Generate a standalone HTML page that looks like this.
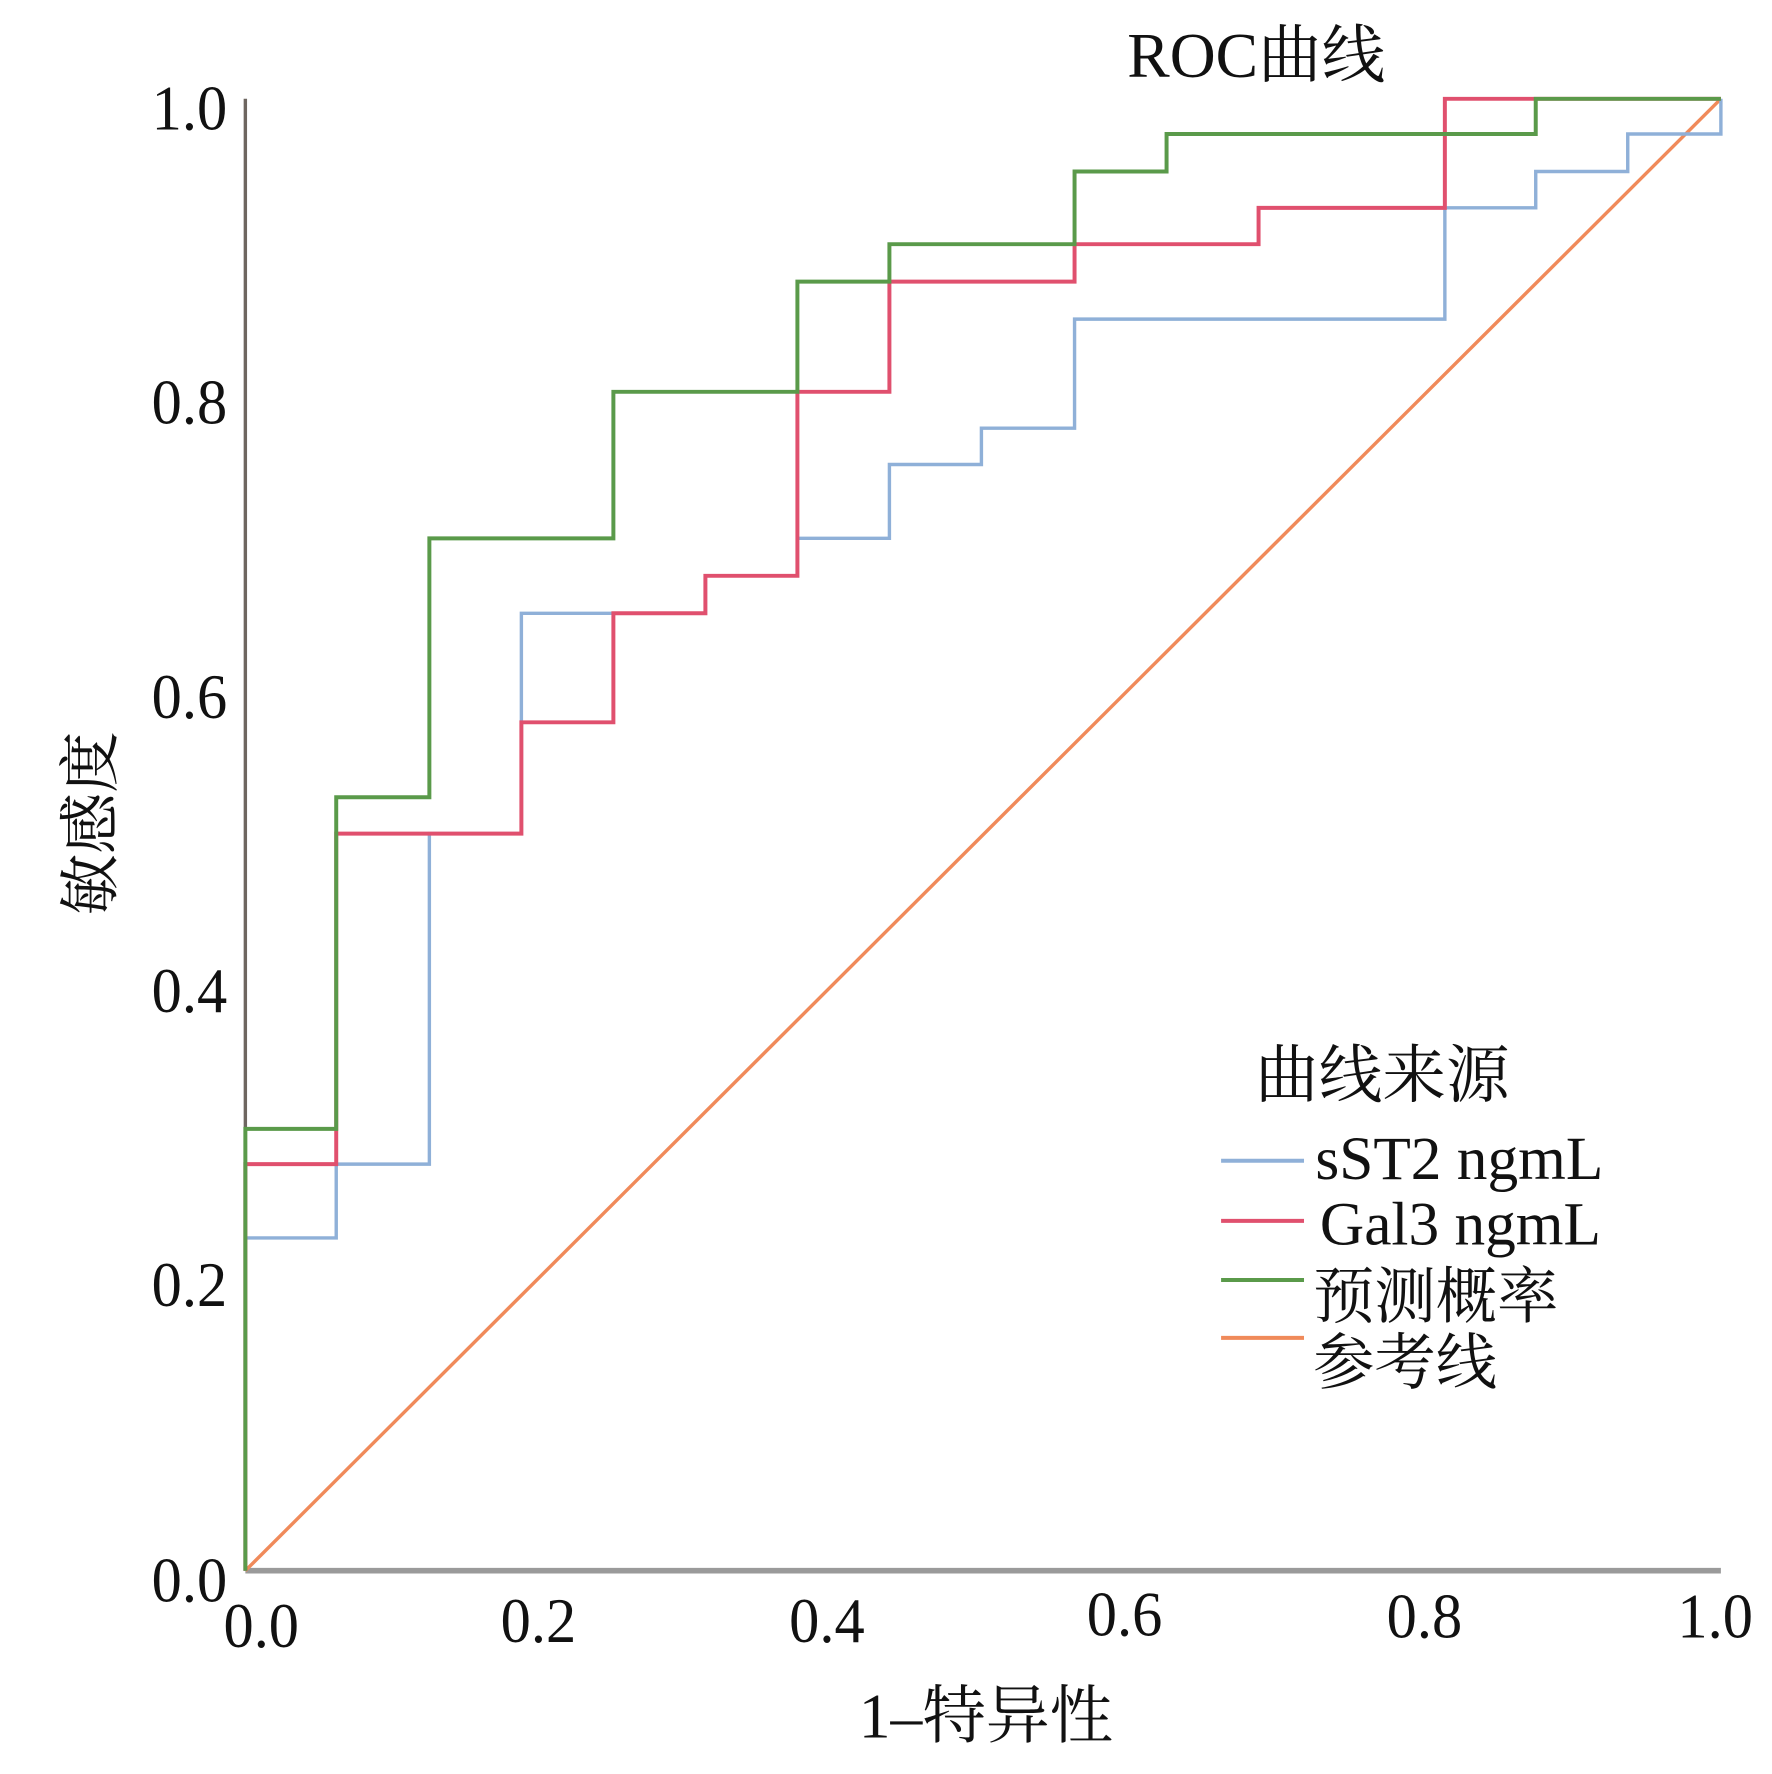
<!DOCTYPE html>
<html><head><meta charset="utf-8"><style>
html,body{margin:0;padding:0;background:#fff;}
svg{display:block;}
text{font-family:"Liberation Serif","Noto Serif CJK SC",serif;fill:#111;}
</style></head><body>
<svg width="1772" height="1774" viewBox="0 0 1560 1562" preserveAspectRatio="none">
<rect width="1560" height="1562" fill="#fff"/>
<line x1="216" y1="87" x2="216" y2="1383" stroke="#6e6660" stroke-width="3"/>
<line x1="216" y1="1383" x2="1515" y2="1383" stroke="#9a9a9a" stroke-width="5"/>
<line x1="216" y1="1383" x2="1515" y2="87" stroke="#f08a5a" stroke-width="3"/>
<polyline fill="none" stroke="#8fb0d8" stroke-width="3" points="216,1383 216,1090 296,1090 296,1025 378,1025 378,734 459,734 459,540 621,540 621,507 702,507 702,474 783,474 783,409 864,409 864,377 946,377 946,281 1272,281 1272,183 1352,183 1352,151 1433,151 1433,118 1515,118 1515,87"/>
<polyline fill="none" stroke="#e0506e" stroke-width="3.5" points="216,1383 216,1025 296,1025 296,734 459,734 459,636 540,636 540,540 621,540 621,507 702,507 702,345 783,345 783,248 946,248 946,215 1108,215 1108,183 1272,183 1272,87 1515,87"/>
<polyline fill="none" stroke="#5a9a4a" stroke-width="3.5" points="216,1383 216,994 296,994 296,702 378,702 378,474 540,474 540,345 702,345 702,248 783,248 783,215 946,215 946,151 1027,151 1027,118 1352,118 1352,87 1515,87"/>
<g font-size="56" text-anchor="end">
<text x="200" y="114" transform="scale(0.95,1)" transform-origin="200 114">1.0</text>
<text x="200" y="373" transform="scale(0.95,1)" transform-origin="200 373">0.8</text>
<text x="200" y="632" transform="scale(0.95,1)" transform-origin="200 632">0.6</text>
<text x="200" y="891" transform="scale(0.95,1)" transform-origin="200 891">0.4</text>
<text x="200" y="1150" transform="scale(0.95,1)" transform-origin="200 1150">0.2</text>
<text x="200" y="1410" transform="scale(0.95,1)" transform-origin="200 1410">0.0</text>
</g>
<g font-size="56" text-anchor="middle">
<text x="230" y="1450" transform="scale(0.95,1)" transform-origin="230 1450">0.0</text>
<text x="474" y="1446" transform="scale(0.95,1)" transform-origin="474 1446">0.2</text>
<text x="728" y="1446" transform="scale(0.95,1)" transform-origin="728 1446">0.4</text>
<text x="990" y="1440" transform="scale(0.95,1)" transform-origin="990 1440">0.6</text>
<text x="1254" y="1442" transform="scale(0.95,1)" transform-origin="1254 1442">0.8</text>
<text x="1510" y="1442" transform="scale(0.95,1)" transform-origin="1510 1442">1.0</text>
</g>
<text x="1106" y="68" font-size="56" text-anchor="middle">ROC曲线</text>
<text x="868" y="1530" font-size="56" text-anchor="middle">1–特异性</text>
<text x="0" y="0" font-size="54" text-anchor="middle" transform="translate(98,725) rotate(-90)">敏感度</text>
<text x="1105" y="966" font-size="56">曲线来源</text>
<line x1="1075" y1="1022" x2="1148" y2="1022" stroke="#8fb0d8" stroke-width="3.5"/>
<line x1="1075" y1="1075" x2="1148" y2="1075" stroke="#e0506e" stroke-width="3.5"/>
<line x1="1075" y1="1127" x2="1148" y2="1127" stroke="#5a9a4a" stroke-width="3.5"/>
<line x1="1075" y1="1178" x2="1148" y2="1178" stroke="#f08a5a" stroke-width="3.5"/>
<g font-size="54">
<text x="1158" y="1038">sST2 ngmL</text>
<text x="1162" y="1096">Gal3 ngmL</text>
<text x="1156" y="1160">预测概率</text>
<text x="1156" y="1218">参考线</text>
</g>
</svg>
</body></html>
